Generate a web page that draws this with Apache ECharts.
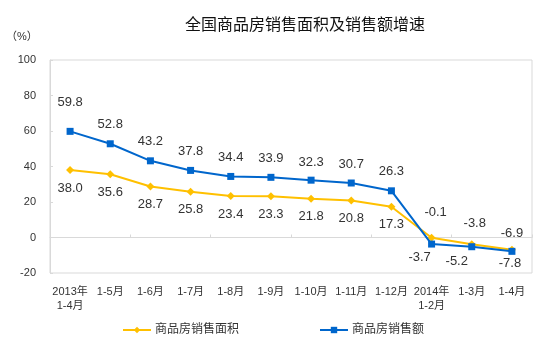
<!DOCTYPE html>
<html>
<head>
<meta charset="utf-8">
<script src="https://cdn.jsdelivr.net/npm/echarts@6/dist/echarts.min.js"></script>
<style>
html,body{margin:0;padding:0;background:#fff;}
#chart{width:550px;height:347px;}
</style>
</head>
<body>
<div id="chart"></div>
<script>
const titleText = '全国商品房销售面积及销售额增速';
const unitText = '（%）';
const categories = ['2013年\n1-4月','1-5月','1-6月','1-7月','1-8月','1-9月','1-10月','1-11月','1-12月','2014年\n1-2月','1-3月','1-4月'];
const areaName = '商品房销售面积';
const salesName = '商品房销售额';
const areaGrowth = [38.0, 35.6, 28.7, 25.8, 23.4, 23.3, 21.8, 20.8, 17.3, -0.1, -3.8, -6.9];
const salesGrowth = [59.8, 52.8, 43.2, 37.8, 34.4, 33.9, 32.3, 30.7, 26.3, -3.7, -5.2, -7.8];
const yMin = -20, yMax = 100, yStep = 20;

const FONT = '"Liberation Sans","Noto Sans CJK SC",sans-serif';
const YELLOW = '#FFC000';
const BLUE = '#0066CC';

// label placement (style), per point index
const areaLabelOffsets = [[0,18],[0,18],[0,18],[0,18],[0,18],[0,18],[0,18],[0,18],[0,18],[4,-25],[3,-21],[0,-16]];
const salesLabelOffsets = [[0,-29],[0,-19],[0,-19],[0,-19],[0,-19],[0,-19],[0,-18],[0,-19],[0,-19],[-12,13],[-15,15],[-2,12]];

function build(values, offsets) {
  return values.map((v, i) => ({
    value: v,
    label: { offset: offsets[i] }
  }));
}

const labelBase = {
  show: true,
  position: 'inside',
  fontSize: 13,
  color: '#333',
  fontFamily: FONT,
  formatter: p => Number(p.value).toFixed(1)
};

const chart = echarts.init(document.getElementById('chart'), null, {renderer: 'canvas'});
chart.setOption({
  animation: false,
  backgroundColor: '#fff',
  title: {
    text: titleText,
    left: 180,
    top: 12,
    textStyle: { fontSize: 16, fontWeight: 'normal', color: '#111', fontFamily: FONT, lineHeight: 18 }
  },
  graphic: [{
    type: 'text',
    left: 6,
    top: 31,
    style: { text: unitText, fontSize: 11, fill: '#333', fontFamily: FONT }
  }],
  legend: {
    left: 122,
    top: 324,
    padding: 0,
    itemGap: 80,
    itemWidth: 28,
    itemHeight: 8,
    textStyle: { fontSize: 12, color: '#333', fontFamily: FONT, padding: [0, 0, 0, -1] },
    data: [areaName, salesName]
  },
  grid: {
    left: 50, right: 18, top: 60, bottom: 74,
    show: true, borderColor: '#d9d9d9', borderWidth: 1
  },
  xAxis: [{
    type: 'category',
    data: categories,
    position: 'bottom',
    axisLine: { show: false, onZero: false },
    axisTick: { show: false },
    axisLabel: { fontSize: 11, color: '#333', fontFamily: FONT, margin: 12, lineHeight: 14, interval: 0 },
    splitLine: { show: false }
  }, {
    type: 'category',
    data: categories,
    axisLine: { show: true, onZero: true, lineStyle: { color: '#d9d9d9', width: 1 } },
    axisTick: { show: true, inside: false, length: 3, lineStyle: { color: '#d9d9d9' } },
    axisLabel: { show: false },
    splitLine: { show: false }
  }],
  yAxis: {
    type: 'value',
    min: yMin, max: yMax, interval: yStep,
    axisLine: { show: true, lineStyle: { color: '#d9d9d9' } },
    axisTick: { show: true, inside: true, length: 3, lineStyle: { color: '#d9d9d9' } },
    axisLabel: { fontSize: 11, color: '#333', fontFamily: FONT, margin: 14 },
    splitLine: { show: false }
  },
  series: [{
    name: areaName,
    type: 'line',
    xAxisIndex: 0,
    data: build(areaGrowth, areaLabelOffsets),
    symbol: 'diamond',
    symbolSize: 8,
    itemStyle: { color: YELLOW },
    lineStyle: { color: YELLOW, width: 2 },
    label: labelBase,
    z: 2
  }, {
    name: salesName,
    type: 'line',
    xAxisIndex: 0,
    data: build(salesGrowth, salesLabelOffsets),
    symbol: 'rect',
    symbolSize: 7,
    itemStyle: { color: BLUE },
    lineStyle: { color: BLUE, width: 2 },
    label: labelBase,
    z: 3
  }]
});
</script>
</body>
</html>
